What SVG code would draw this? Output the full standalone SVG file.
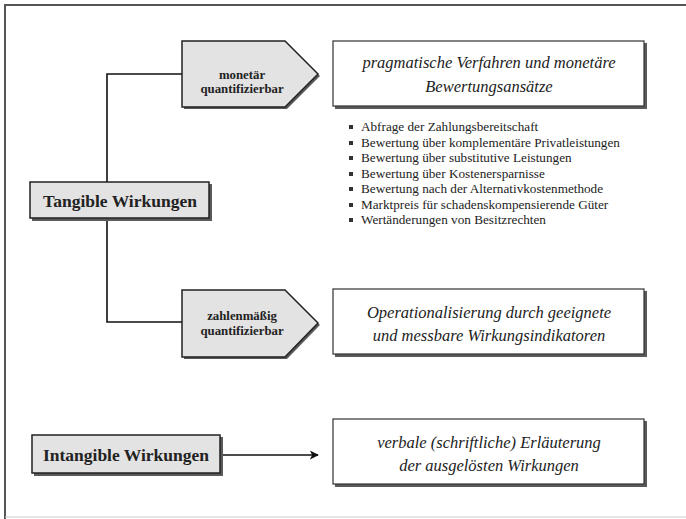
<svg xmlns="http://www.w3.org/2000/svg" width="686" height="519" viewBox="0 0 686 519">
<defs>
<style>
.frame{stroke:#555;stroke-width:2;fill:none}
.shade{fill:#5a5a5a}
.node{fill:#e3e3e3;stroke:#222;stroke-width:1.5}
.box{fill:#fff;stroke:#333;stroke-width:1.2}
.conn{stroke:#111;stroke-width:1.6;fill:none}
.bold{font-family:"Liberation Serif","Times New Roman",serif;font-weight:bold;fill:#222;text-anchor:middle}
.ital{font-family:"Liberation Serif","Times New Roman",serif;font-style:italic;fill:#222;text-anchor:middle;font-size:16.5px}
.list{font-family:"Liberation Serif","Times New Roman",serif;fill:#222;font-size:13.2px}
</style>
<marker id="arr" viewBox="0 0 10 10" refX="9" refY="5" markerWidth="9" markerHeight="9" markerUnits="userSpaceOnUse" orient="auto">
<path d="M0,0 L10,5 L0,10 L2.5,5 Z" fill="#111"/>
</marker>
</defs>
<rect width="686" height="519" fill="#fff"/>
<path class="frame" d="M686,5 H5 V519"/>
<line x1="5" y1="517" x2="686" y2="517" stroke="#ccc" stroke-width="1"/>

<g id="connectors">
<path class="conn" d="M182,74 H107 V182"/>
<path class="conn" d="M107,220 V322 H182"/>
<line class="conn" x1="221" y1="455" x2="318" y2="455" marker-end="url(#arr)"/>
</g>

<g id="tangible">
<rect class="shade" x="32" y="184" width="180" height="37"/>
<rect class="node" x="30" y="182" width="179" height="36"/>
<text class="bold" x="120" y="207" font-size="17.5">Tangible Wirkungen</text>
</g>

<g id="intangible">
<rect class="shade" x="34" y="437" width="189" height="39"/>
<rect class="node" x="32" y="435" width="188" height="38"/>
<text class="bold" x="126" y="461" font-size="17.5">Intangible Wirkungen</text>
</g>

<g id="monetaer">
<path class="shade" d="M184,43 H287 L320,76 L287,109 H184 Z"/>
<path class="node" d="M182,41 H285 L318,74 L285,107 H182 Z"/>
<text class="bold" x="242" y="79" font-size="12.8">monetär</text>
<text class="bold" x="242" y="93" font-size="12.8">quantifizierbar</text>
</g>

<g id="zahlenmaessig">
<path class="shade" d="M184,292 H287 L320,325 L287,359 H184 Z"/>
<path class="node" d="M182,290 H285 L318,323 L285,357 H182 Z"/>
<text class="bold" x="242" y="320" font-size="12.8">zahlenmäßig</text>
<text class="bold" x="242" y="335" font-size="12.8">quantifizierbar</text>
</g>

<g id="box-pragmatisch">
<rect class="shade" x="335" y="43" width="312" height="66"/>
<rect class="box" x="333" y="41" width="311" height="65"/>
<text class="ital" x="489" y="68">pragmatische Verfahren und monetäre</text>
<text class="ital" x="489" y="92">Bewertungsansätze</text>
</g>

<g id="list">
<g fill="#333">
<rect x="349" y="125" width="4" height="4"/>
<rect x="349" y="141" width="4" height="4"/>
<rect x="349" y="156" width="4" height="4"/>
<rect x="349" y="172" width="4" height="4"/>
<rect x="349" y="187" width="4" height="4"/>
<rect x="349" y="203" width="4" height="4"/>
<rect x="349" y="218" width="4" height="4"/>
</g>
<text class="list" x="361" y="131">Abfrage der Zahlungsbereitschaft</text>
<text class="list" x="361" y="147">Bewertung über komplementäre Privatleistungen</text>
<text class="list" x="361" y="162">Bewertung über substitutive Leistungen</text>
<text class="list" x="361" y="178">Bewertung über Kostenersparnisse</text>
<text class="list" x="361" y="193">Bewertung nach der Alternativkostenmethode</text>
<text class="list" x="361" y="209">Marktpreis für schadenskompensierende Güter</text>
<text class="list" x="361" y="224">Wertänderungen von Besitzrechten</text>
</g>

<g id="box-operationalisierung">
<rect class="shade" x="335" y="291" width="312" height="66"/>
<rect class="box" x="333" y="289" width="311" height="65"/>
<text class="ital" x="489" y="318">Operationalisierung durch geeignete</text>
<text class="ital" x="489" y="341">und messbare Wirkungsindikatoren</text>
</g>

<g id="box-verbal">
<rect class="shade" x="335" y="421" width="312" height="66"/>
<rect class="box" x="333" y="419" width="311" height="65"/>
<text class="ital" x="489" y="448">verbale (schriftliche) Erläuterung</text>
<text class="ital" x="489" y="471">der ausgelösten Wirkungen</text>
</g>
</svg>
